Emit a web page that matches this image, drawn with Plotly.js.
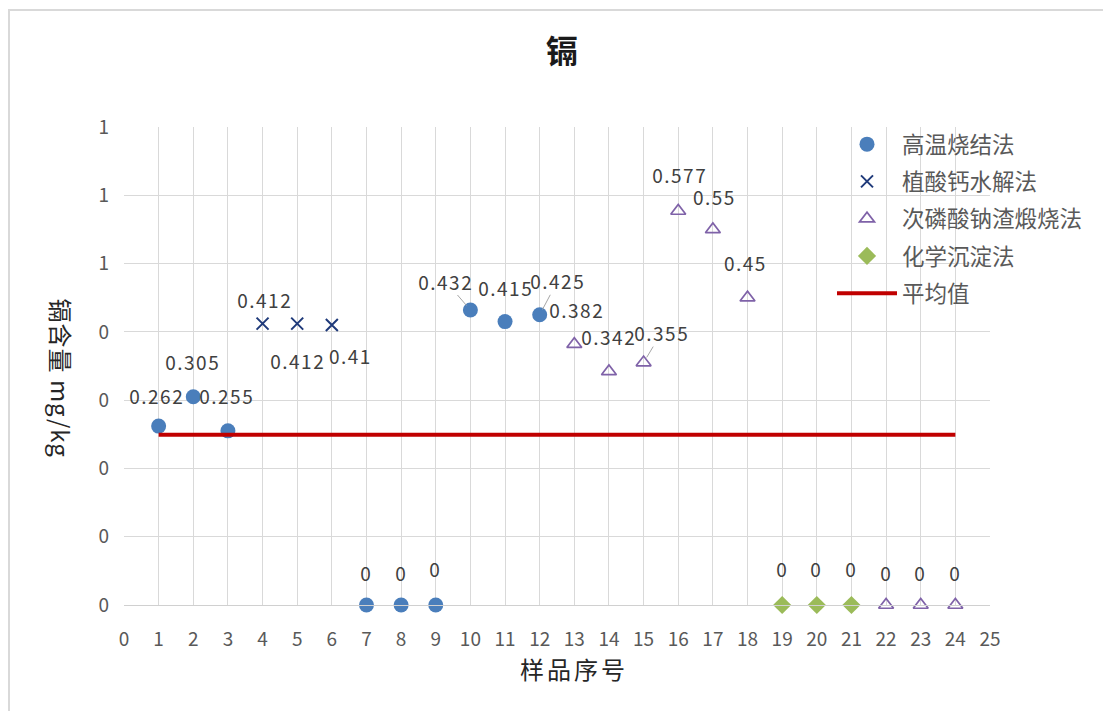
<!DOCTYPE html>
<html>
<head>
<meta charset="utf-8">
<script src="https://cdn.plot.ly/plotly-3.0.1.min.js"></script>
<style>
  html, body { margin: 0; padding: 0; background: #fff; }
  #frame { position: absolute; left: 8px; top: 9px; width: 1200px; height: 800px;
           border-left: 2px solid #d9d9d9; border-top: 2px solid #d9d9d9; box-sizing: border-box; }
  #chart { position: absolute; left: 0; top: 0; width: 1103px; height: 711px; }
  #chart .annotation-text { letter-spacing: 1.5px; }
  #chart .annotation.axtitle .annotation-text { letter-spacing: 3px; }
  #chart .annotation.ytitle .annotation-text { letter-spacing: 1px; }
</style>
</head>
<body>
<div id="frame"></div>
<div id="chart"></div>
<script>
// ---- data ----
const seriesNames = ["高温烧结法", "植酸钙水解法", "次磷酸钠渣煅烧法", "化学沉淀法", "平均值"];
const gaowenX = [1, 2, 3, 7, 8, 9, 10, 11, 12];
const gaowenY = [0.262, 0.305, 0.255, 0, 0, 0, 0.432, 0.415, 0.425];
const zhisuanX = [4, 5, 6];
const zhisuanY = [0.412, 0.412, 0.41];
const cilinX = [13, 14, 15, 16, 17, 18, 22, 23, 24];
const cilinY = [0.382, 0.342, 0.355, 0.577, 0.55, 0.45, 0, 0, 0];
const huaxueX = [19, 20, 21];
const huaxueY = [0, 0, 0];
const avgX = [1, 24];
const allY = gaowenY.concat(zhisuanY, cilinY, huaxueY);
const avgValue = allY.reduce((a, b) => a + b, 0) / allY.length;
const avgY = [avgValue, avgValue];
const xTickVals = [0,1,2,3,4,5,6,7,8,9,10,11,12,13,14,15,16,17,18,19,20,21,22,23,24,25];
const yTickVals = [0, 0.1, 0.2, 0.3, 0.4, 0.5, 0.6, 0.7];
const yTickText = ["0", "0", "0", "0", "0", "1", "1", "1"];

// ---- label placement (pixel offsets per sample number, layout only) ----
const labelOffsets = {
  1: [-2, -31], 2: [-1, -35], 3: [-1, -35], 4: [2, -24], 5: [0, 37], 6: [19, 30],
  7: [0, -33], 8: [0, -33], 9: [0, -37], 10: [-25, -29, true], 11: [0, -34], 12: [18, -34, true],
  13: [2, -35], 14: [0, -35], 15: [18, -30, true], 16: [1, -36], 17: [2, -33], 18: [-2, -35],
  19: [0, -37], 20: [0, -37], 21: [0, -37], 22: [0, -33], 23: [0, -33], 24: [0, -33]
};

const FONT = '"Noto Sans CJK SC", "Noto Sans", sans-serif';

const traces = [
  { x: gaowenX, y: gaowenY, name: seriesNames[0], mode: 'markers', type: 'scatter',
    marker: { symbol: 'circle', size: 15, color: '#4a7ebb' }, cliponaxis: false, legendgroup: 'a' },
  { x: zhisuanX, y: zhisuanY, name: seriesNames[1], mode: 'markers', type: 'scatter',
    marker: { symbol: 'x-thin-open', size: 12, color: '#1f3a7a', line: { width: 2, color: '#1f3a7a' } },
    cliponaxis: false, legendgroup: 'b' },
  { x: cilinX, y: cilinY, name: seriesNames[2], mode: 'markers', type: 'scatter',
    marker: { symbol: 'triangle-up-open', size: 13, color: '#7f62a8', line: { width: 1.7, color: '#7f62a8' } },
    cliponaxis: false, legendgroup: 'c' },
  { x: huaxueX, y: huaxueY, name: seriesNames[3], mode: 'markers', type: 'scatter',
    marker: { symbol: 'diamond', size: 14, color: '#9bbb59' }, cliponaxis: false, legendgroup: 'd' },
  { x: avgX, y: avgY, name: seriesNames[4], mode: 'lines', type: 'scatter',
    line: { color: '#c00000', width: 4 }, cliponaxis: false, legendgroup: 'e' }
];

const annotations = [];
function addLabels(xs, ys) {
  xs.forEach((xv, i) => {
    const o = labelOffsets[xv] || [0, -34];
    annotations.push({
      x: xv, y: ys[i], xref: 'x', yref: 'y', text: String(ys[i]),
      showarrow: true, ax: o[0], ay: o[1], arrowhead: 0, arrowwidth: 1,
      arrowcolor: o[2] ? '#a6a6a6' : 'rgba(0,0,0,0)', standoff: 6, borderpad: 0,
      font: { family: FONT, size: 19, color: '#404040' }
    });
  });
}
addLabels(gaowenX, gaowenY);
addLabels(zhisuanX, zhisuanY);
addLabels(cilinX, cilinY);
addLabels(huaxueX, huaxueY);

annotations.push({
  xref: 'paper', yref: 'paper', x: (574 - 124) / 866, y: -(668 - 605) / 478,
  text: '样品序号', showarrow: false, xanchor: 'center', yanchor: 'middle', name: 'axtitle',
  font: { family: FONT, size: 24, color: '#262626' }
});
annotations.push({
  xref: 'paper', yref: 'paper', x: -(124 - 62) / 866, y: (605 - 378) / 478,
  text: '镉含量 mg/kg', showarrow: false, textangle: 90, xanchor: 'center', yanchor: 'middle', name: 'ytitle',
  font: { family: FONT, size: 24, color: '#262626' }
});

const layout = {
  width: 1103, height: 711,
  margin: { l: 124, r: 113, t: 127, b: 106 },
  paper_bgcolor: 'rgba(0,0,0,0)', plot_bgcolor: 'rgba(0,0,0,0)',
  title: { text: '<b>镉</b>', x: 562 / 1103, xanchor: 'center', y: 1 - 52 / 711, yanchor: 'middle',
           xref: 'container', yref: 'container',
           font: { family: FONT, size: 32, color: '#1a1a1a' } },
  xaxis: { range: [0, 25], tickvals: xTickVals, showgrid: true, gridcolor: '#d9d9d9', gridwidth: 1,
           zeroline: false, showline: true, linecolor: '#d0d0d0', linewidth: 1, ticks: '',
           ticklabelstandoff: 17,
           tickfont: { family: FONT, size: 19, color: '#595959' } },
  yaxis: { range: [0, 0.7], tickvals: yTickVals, ticktext: yTickText, showgrid: true,
           gridcolor: '#d9d9d9', gridwidth: 1, zeroline: false, showline: false, ticks: '',
           ticklabelstandoff: 14,
           tickfont: { family: FONT, size: 19, color: '#595959' } },
  legend: { x: (832 - 124) / 866, y: (605 - 123) / 478, xanchor: 'left', yanchor: 'top',
            bgcolor: 'rgba(0,0,0,0)', tracegroupgap: 5, itemwidth: 60,
            font: { family: FONT, size: 22.5, color: '#595959' } },
  showlegend: true,
  annotations: annotations
};

Plotly.newPlot('chart', traces, layout, { displayModeBar: false, staticPlot: true }).then(() => {
  // tag axis-title annotations so the stylesheet can space their letters
  document.querySelectorAll('#chart .annotation').forEach(g => {
    const t = g.textContent;
    if (t === '样品序号') g.classList.add('axtitle');
    if (t === '镉含量 mg/kg') g.classList.add('ytitle');
  });
});
</script>
</body>
</html>
